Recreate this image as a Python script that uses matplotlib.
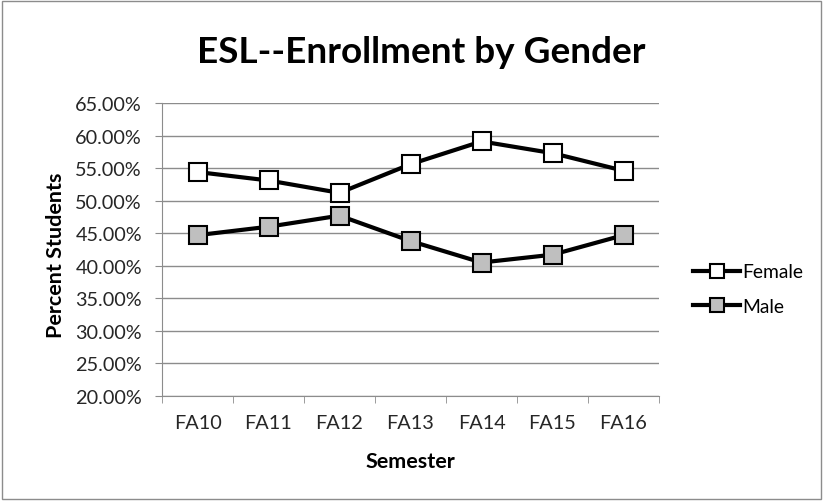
import matplotlib.pyplot as plt
from matplotlib.patches import Rectangle
from matplotlib.ticker import FixedLocator, PercentFormatter

plt.rcParams['font.family'] = ['Lato', 'DejaVu Sans']

semesters = ['FA10', 'FA11', 'FA12', 'FA13', 'FA14', 'FA15', 'FA16']
female = [54.4, 53.1, 51.2, 55.6, 59.1, 57.3, 54.6]
male = [44.7, 46.0, 47.7, 43.8, 40.5, 41.7, 44.7]
y_ticks = [20, 25, 30, 35, 40, 45, 50, 55, 60, 65]

grid_grey = '#8c8c8c'
text_col = '#262626'
W, H = 823, 502

fig = plt.figure(figsize=(W / 100, H / 100), dpi=100)
renderer = fig.canvas.get_renderer()


def fit_size(text, width_px, weight='normal'):
    # font size that gives the text the pixel width seen in the reference
    t = fig.text(0, 0, text, fontsize=10, fontweight=weight)
    w = t.get_window_extent(renderer).width
    t.remove()
    return 10 * width_px / w


tick_size = (fit_size('60.00%', 69) + fit_size('FA10', 46)) / 2
label_size = fit_size('Semester', 90, 'bold')
title_size = fit_size('ESL--Enrollment by Gender', 450, 'bold')
legend_size = fit_size('Female', 61)

fig.patches.append(Rectangle((0.002, 0.004), 0.995, 0.992, transform=fig.transFigure,
                             fill=False, edgecolor='#8c8c8c', linewidth=1))
ax = fig.add_axes([162 / W, 1 - 397 / H, (659 - 162) / W, (397 - 104) / H])

xs = list(range(len(semesters)))
ax.plot(xs, female, color='black', linewidth=3, marker='s', markersize=12.5,
        markerfacecolor='white', markeredgecolor='black', markeredgewidth=1.5, label='Female')
ax.plot(xs, male, color='black', linewidth=3, marker='s', markersize=12.5,
        markerfacecolor='#bfbfbf', markeredgecolor='black', markeredgewidth=1.5, label='Male')

ax.set_xlim(-0.5, len(semesters) - 0.5)
ax.set_ylim(20, 65)
ax.set_yticks(y_ticks)
ax.yaxis.set_major_formatter(PercentFormatter(decimals=2))
ax.grid(axis='y', color=grid_grey, linewidth=1)
ax.set_axisbelow(True)

ax.set_xticks(xs)
ax.set_xticklabels(semesters)
ax.xaxis.set_minor_locator(FixedLocator([x - 0.5 for x in range(len(semesters) + 1)]))
ax.tick_params(axis='x', which='major', length=0, pad=13, labelsize=tick_size, colors=text_col)
ax.tick_params(axis='x', which='minor', length=5, color=grid_grey, direction='out')
ax.tick_params(axis='y', length=5, color=grid_grey, pad=9.4, labelsize=tick_size, colors=text_col)

for side in ['top', 'right']:
    ax.spines[side].set_visible(False)
for side in ['left', 'bottom']:
    ax.spines[side].set_color(grid_grey)

fig.text(410 / W, 1 - 468 / H, 'Semester', fontsize=label_size, fontweight='bold',
         ha='center', va='baseline')
fig.text(56 / W, 1 - 255 / H, 'Percent Students', fontsize=label_size, fontweight='bold',
         ha='center', va='center', rotation=90)
fig.text(421 / W, 1 - 63 / H, 'ESL--Enrollment by Gender', fontsize=title_size,
         fontweight='bold', ha='center', va='baseline')

fig.legend(loc='center left', bbox_to_anchor=(693 / W, 1 - 290 / H), frameon=False,
           borderpad=0, borderaxespad=0, fontsize=legend_size, handlelength=2.45,
           handletextpad=0.1, labelspacing=0.9, markerscale=0.85)

fig.savefig('out.png', dpi=100)
